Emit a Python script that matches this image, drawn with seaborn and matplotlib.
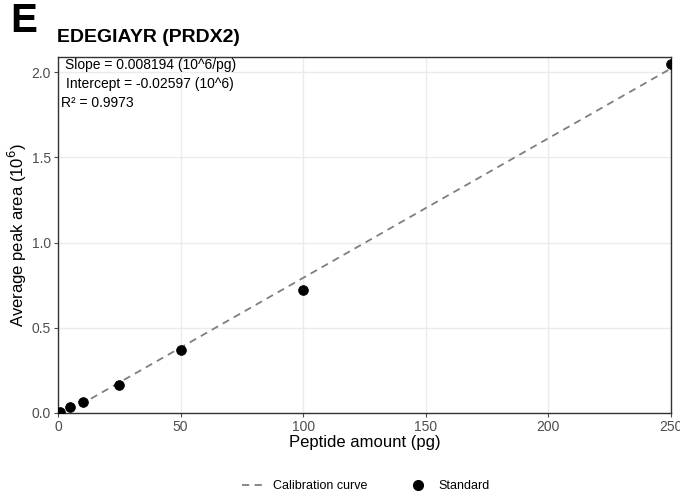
import matplotlib
matplotlib.use("Agg")
import matplotlib.pyplot as plt
import seaborn as sns
import numpy as np
import pandas as pd
from matplotlib.lines import Line2D

amount_pg = [1, 5, 10, 25, 50, 100, 250]
peak_area = [0.006, 0.033, 0.065, 0.166, 0.370, 0.725, 2.048]
slope = 0.008194
intercept = -0.02597
r2 = 0.9973
x_ticks = [0, 50, 100, 150, 200, 250]
y_ticks = [0.0, 0.5, 1.0, 1.5, 2.0]

sns.set_theme(style="whitegrid")
plt.rcParams['font.family'] = ['Liberation Sans', 'DejaVu Sans']
plt.rcParams['text.color'] = 'black'
plt.rcParams['axes.labelcolor'] = 'black'

fig = plt.figure(figsize=(6.8, 4.96), dpi=100)
ax = fig.add_axes([58/680, 1-413/496, (671-58)/680, (413-57)/496])

df = pd.DataFrame({"amount": amount_pg, "area": peak_area})
fit_x = np.array([0.0, 250.0])
fit_df = pd.DataFrame({"amount": fit_x, "area": slope * fit_x + intercept})

sns.lineplot(data=fit_df, x="amount", y="area", ax=ax, color="#7f7f7f",
             linestyle=(0, (4, 3)), linewidth=1.3, zorder=2)
sns.scatterplot(data=df, x="amount", y="area", ax=ax, color="black", s=50,
                edgecolor="black", linewidth=0.5, zorder=3, clip_on=True)

ax.set_xlim(0, 250)
ax.set_ylim(0, 2.09)
ax.set_xticks(x_ticks)
ax.set_yticks(y_ticks)
ax.set_yticklabels([f"{v:.1f}" for v in y_ticks])
ax.tick_params(axis='both', labelsize=10, colors="#4d4d4d", length=3, width=0.8,
               direction='out', pad=2, left=True, bottom=True)
for lab in ax.get_xticklabels() + ax.get_yticklabels():
    lab.set_color("#4d4d4d")
ax.grid(True, color="#ebebeb", linewidth=1.0)
for s in ax.spines.values():
    s.set_color("#333333")
    s.set_linewidth(1.0)
ax.set_facecolor("white")

ax.set_xlabel("Peptide amount (pg)", fontsize=12, color="black", labelpad=1)
ax.set_ylabel("Average peak area (10$^{6}$)", fontsize=12, color="black", labelpad=2)

ax.annotate(f"Slope = {slope:.6f} (10^6/pg)", xy=(65/680, 1-65/496), xycoords='figure fraction',
            fontsize=10, va='center', ha='left', color='black')
ax.annotate(f"Intercept = {intercept:.5f} (10^6)", xy=(66/680, 1-84/496), xycoords='figure fraction',
            fontsize=10, va='center', ha='left', color='black')
ax.annotate(f"R\u00b2 = {r2:.4f}", xy=(61/680, 1-103/496), xycoords='figure fraction',
            fontsize=10, va='center', ha='left', color='black')

fig.text(10/680, 1-21/496, "E", fontsize=29, fontweight='bold', va='center', ha='left', color='black')
fig.text(57/680, 1-38/496, "EDEGIAYR (PRDX2)", fontsize=14, fontweight='bold', va='center', ha='left', color='black')

handles = [Line2D([0], [0], color="#7f7f7f", linestyle=(0, (4, 3)), linewidth=1.3),
           Line2D([0], [0], marker='o', color='black', linestyle='none', markersize=7)]
fig.legend(handles, ["Calibration curve", "Standard"], loc='center',
           bbox_to_anchor=(366/680, 1-486/496), ncol=2, frameon=False, fontsize=9,
           handlelength=1.6, columnspacing=3.2, handletextpad=0.9, labelcolor='black')

fig.savefig("out.png", dpi=100)
